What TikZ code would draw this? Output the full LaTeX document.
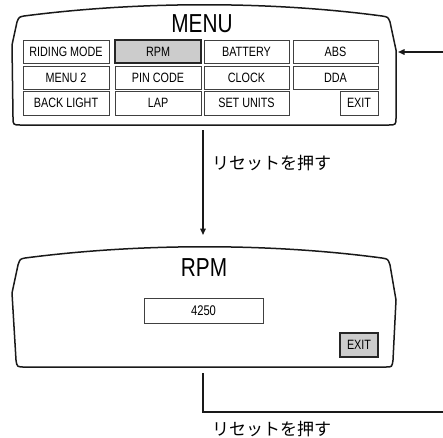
\documentclass[tikz,border=0pt]{standalone}
\usepackage{fontspec}
\setmainfont{Liberation Sans}[FakeStretch=0.8]
\newfontfamily\jpfont{Noto Sans CJK JP}
\usetikzlibrary{arrows.meta}
\begin{document}
\begin{tikzpicture}[x=1pt,y=-1pt,
  panel/.style={draw=black!90,line width=1.5pt,line join=round},
  cell/.style={draw=black!75,line width=0.9pt,inner sep=0pt,minimum width=86pt,minimum height=23pt,font=\fontsize{13.5}{15}\selectfont},
  selcell/.style={cell,fill=black!20,draw=black!85,line width=1.6pt},
  title/.style={inner sep=0pt,font=\fontsize{26}{29}\selectfont},
  conn/.style={draw=black!90,line width=1.5pt},
  tip/.style={-{Triangle[length=6.5pt,width=5.5pt]}},
  jplabel/.style={inner sep=0pt,anchor=west,font=\jpfont\fontsize{17}{20}\selectfont}]
\useasboundingbox (0,0) rectangle (443,437);
% menu panel
\draw[panel] (24,16) .. controls (140,1) and (270,1) .. (382,16)
  .. controls (388,17) .. (390,22) -- (396,50) -- (396,117)
  .. controls (396,125) .. (388,125) -- (21,125)
  .. controls (13,125) .. (13,117) -- (12,45) -- (17,22)
  .. controls (19,17) .. (24,16) -- cycle;
\node[title] (menutitle) at (202,24) {MENU};
\node[cell] (c11) at (66,51.5) {RIDING MODE};
\node[selcell] (c12) at (158,51.5) {RPM};
\node[cell,minimum width=85pt] (c13) at (246.5,51.5) {BATTERY};
\node[cell,minimum width=85pt] (c14) at (335.5,51.5) {ABS};
\node[cell] (c21) at (66,77.5) {MENU 2};
\node[cell] (c22) at (158,77.5) {PIN CODE};
\node[cell,minimum width=85pt] (c23) at (246.5,77.5) {CLOCK};
\node[cell,minimum width=85pt] (c24) at (335.5,77.5) {DDA};
\node[cell,minimum height=24pt] (c31) at (66,103) {BACK LIGHT};
\node[cell,minimum height=24pt] (c32) at (158,103) {LAP};
\node[cell,minimum width=85pt,minimum height=24pt] (c33) at (246.5,103) {SET UNITS};
\node[cell,minimum width=38pt,minimum height=24pt] (c34) at (359,103) {EXIT};
% rpm panel
\draw[panel] (25,258) .. controls (140,243) and (270,243) .. (382,258)
  .. controls (388,259) .. (390,265) -- (396,300) -- (393,360)
  .. controls (392,367) .. (386,367) -- (25,367)
  .. controls (17,367) .. (16,360) -- (12,293) -- (18,265)
  .. controls (20,259) .. (25,258) -- cycle;
\node[title] (rpmtitle) at (204,267.5) {RPM};
\node[cell,minimum width=119pt,minimum height=25pt,font=\fontsize{14}{16}\selectfont] (value) at (203.5,310.5) {4250};
\node[selcell,minimum width=38pt,minimum height=24pt] (exit2) at (359,345) {EXIT};
% connectors
\coordinate (inR) at (443,52);
\coordinate (menuR) at (398,52);
\coordinate (menuB) at (203,130);
\coordinate (rpmT) at (203,235);
\coordinate (rpmB) at (203,373);
\coordinate (bend) at (203,412);
\coordinate (outR) at (443,412);
\draw[conn,tip] (inR) -- (menuR);
\draw[conn,tip] (menuB) -- (rpmT);
\draw[conn] (rpmB) -- (bend) -- (outR);
\node[jplabel] (lab1) at (212,163) {リセットを押す};
\node[jplabel] (lab2) at (212,429) {リセットを押す};
\end{tikzpicture}
\end{document}
